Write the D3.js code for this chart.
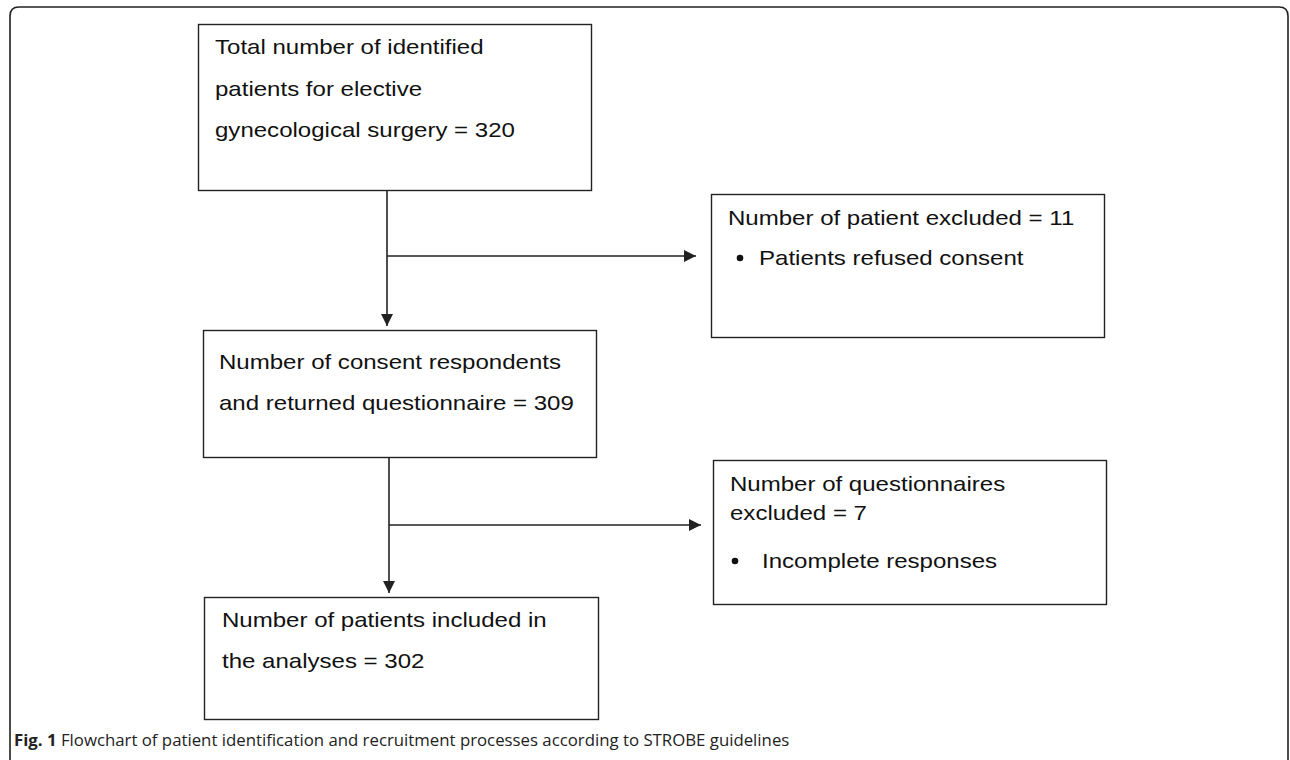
<!DOCTYPE html>
<html>
<head>
<meta charset="utf-8">
<script src="https://cdn.jsdelivr.net/npm/d3@7"></script>
<style>
  html, body { margin: 0; padding: 0; background: #fff; }
  svg { display: block; }
</style>
</head>
<body>
<svg id="chart" width="1290" height="760"></svg>
<script>
// ---- data ----
const mainSteps = [
  { id: "identified", lines: ["Total number of identified", "patients for elective", "gynecological surgery = 320"], n: 320 },
  { id: "consent", lines: ["Number of consent respondents", "and returned questionnaire = 309"], n: 309 },
  { id: "included", lines: ["Number of patients included in", "the analyses = 302"], n: 302 }
];
const exclusions = [
  { id: "excl1", after: 0, lines: ["Number of patient excluded = 11"], bullets: ["Patients refused consent"], n: 11 },
  { id: "excl2", after: 1, lines: ["Number of questionnaires", "excluded = 7"], bullets: ["Incomplete responses"], n: 7 }
];
const captionBold = "Fig. 1";
const captionText = " Flowchart of patient identification and recruitment processes according to STROBE guidelines";

// ---- layout ----
const svg = d3.select("#chart");
const stroke = "#222";
const font = "'Liberation Sans', Arial, Helvetica, sans-serif";
const fontSize = 21;
const stretch = 1.145;

const mainBoxes = [
  { x: 198, y: 24, w: 393, h: 166, tx: 215, ty: 54, lh: 41.5 },
  { x: 203, y: 330, w: 393, h: 127, tx: 219, ty: 369, lh: 41 },
  { x: 204, y: 597, w: 394, h: 122, tx: 222, ty: 627, lh: 41 }
];
const sideBoxes = [
  { x: 711, y: 194, w: 393, h: 143, tx: 728, ty: 225, lh: 30, by: 265, bx: 740, btx: 759 },
  { x: 713, y: 460, w: 393, h: 144, tx: 730, ty: 491, lh: 29, by: 568, bx: 735, btx: 762 }
];
const trunkX = [387, 389];
const branchY = [256, 525];
const branchTip = [696, 701];

function addText(sel, x, y, t) {
  sel.append("text")
    .attr("transform", `translate(${x},${y}) scale(${stretch},1)`)
    .attr("font-family", font).attr("font-size", fontSize).attr("fill", "#111")
    .text(t);
}

// arrowhead
const defs = svg.append("defs");
defs.append("marker")
  .attr("id", "arrow")
  .attr("viewBox", "0 0 10 10")
  .attr("refX", 10).attr("refY", 5)
  .attr("markerWidth", 13).attr("markerHeight", 12)
  .attr("markerUnits", "userSpaceOnUse")
  .attr("orient", "auto")
  .append("path").attr("d", "M0,0 L10,5 L0,10 Z").attr("fill", stroke);

// outer rounded frame (open at the bottom)
const r = 9;
svg.append("path")
  .attr("d", `M10,760 L10,${7 + r} Q10,7 ${10 + r},7 L${1288 - r},7 Q1288,7 1288,${7 + r} L1288,760`)
  .attr("fill", "none").attr("stroke", stroke).attr("stroke-width", 1.6);

// main boxes
const mg = svg.selectAll("g.main").data(mainSteps).join("g").attr("class", "main");
mg.append("rect")
  .attr("x", (d, i) => mainBoxes[i].x + 0.5)
  .attr("y", (d, i) => mainBoxes[i].y + 0.5)
  .attr("width", (d, i) => mainBoxes[i].w)
  .attr("height", (d, i) => mainBoxes[i].h)
  .attr("fill", "#fff").attr("stroke", stroke).attr("stroke-width", 1.4);
mg.each(function (d, i) {
  const b = mainBoxes[i];
  const g = d3.select(this);
  d.lines.forEach((t, j) => addText(g, b.tx, b.ty + j * b.lh, t));
});

// side boxes
const sg = svg.selectAll("g.side").data(exclusions).join("g").attr("class", "side");
sg.append("rect")
  .attr("x", (d, i) => sideBoxes[i].x + 0.5)
  .attr("y", (d, i) => sideBoxes[i].y + 0.5)
  .attr("width", (d, i) => sideBoxes[i].w)
  .attr("height", (d, i) => sideBoxes[i].h)
  .attr("fill", "#fff").attr("stroke", stroke).attr("stroke-width", 1.4);
sg.each(function (d, i) {
  const b = sideBoxes[i];
  const g = d3.select(this);
  d.lines.forEach((t, j) => addText(g, b.tx, b.ty + j * b.lh, t));
  d.bullets.forEach((t, j) => {
    g.append("circle").attr("cx", b.bx).attr("cy", b.by - 7).attr("r", 3.3).attr("fill", "#111");
    addText(g, b.btx, b.by, t);
  });
});

// connectors
for (let i = 0; i < mainSteps.length - 1; i++) {
  const a = mainBoxes[i], b = mainBoxes[i + 1];
  svg.append("line")
    .attr("x1", trunkX[i]).attr("y1", a.y + a.h)
    .attr("x2", trunkX[i]).attr("y2", b.y - 4)
    .attr("stroke", stroke).attr("stroke-width", 1.6)
    .attr("marker-end", "url(#arrow)");
}
exclusions.forEach((d, i) => {
  svg.append("line")
    .attr("x1", trunkX[d.after]).attr("y1", branchY[i])
    .attr("x2", branchTip[i]).attr("y2", branchY[i])
    .attr("stroke", stroke).attr("stroke-width", 1.6)
    .attr("marker-end", "url(#arrow)");
});

// caption
const cap = svg.append("text")
  .attr("x", 14).attr("y", 746)
  .attr("font-family", "'Open Sans', 'Noto Sans', sans-serif")
  .attr("font-size", 16.8).attr("fill", "#222");
cap.append("tspan").attr("font-weight", "bold").text(captionBold);
cap.append("tspan").text(captionText);
</script>
</body>
</html>
